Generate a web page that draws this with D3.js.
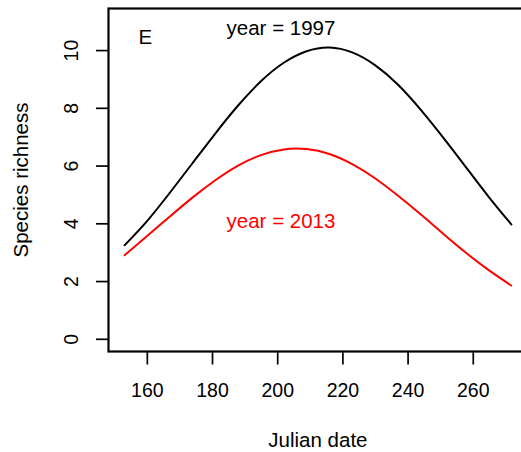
<!DOCTYPE html>
<html>
<head>
<meta charset="utf-8">
<script src="https://cdn.jsdelivr.net/npm/d3@7"></script>
<style>
  html, body { margin: 0; padding: 0; background: #fff; }
  svg { display: block; font-family: "Liberation Sans", Arial, Helvetica, sans-serif; }
</style>
</head>
<body>
<svg id="chart" width="521" height="452"></svg>
<script>
// Fitted species richness over the season, two survey years
const julianDates = [153, 160, 167, 174, 181, 188, 195, 202, 209, 216, 223, 230, 237, 244, 251, 258, 265, 272];
const richness1997 = [3.22, 4.07, 5.05, 6.08, 7.11, 8.08, 8.92, 9.56, 9.96, 10.09, 9.92, 9.48, 8.81, 7.94, 6.96, 5.93, 4.90, 3.94];
const richness2013 = [2.88, 3.55, 4.23, 4.89, 5.49, 6.00, 6.36, 6.56, 6.57, 6.40, 6.05, 5.56, 4.96, 4.31, 3.63, 2.97, 2.37, 1.83];
const xTicks = [160, 180, 200, 220, 240, 260];
const yTicks = [0, 2, 4, 6, 8, 10];
const yLimits = [0, 11];

const svg = d3.select("#chart");
const tickFont = 19.5;
const textFont = 20.5;

// plot region (right border runs just past the canvas edge)
const plot = { left: 108.5, right: 527.4, top: 8.5, bottom: 351.5 };

// R-style 4% axis expansion
const pad = (lo, hi) => { const d = (hi - lo) * 0.04; return [lo - d, hi + d]; };

const x = d3.scaleLinear()
  .domain(pad(d3.min(julianDates), d3.max(julianDates)))
  .range([plot.left, plot.right]);
const y = d3.scaleLinear()
  .domain(pad(yLimits[0], yLimits[1]))
  .range([plot.bottom, plot.top]);

// x axis
const xAxis = svg.append("g")
  .attr("transform", `translate(0,${plot.bottom})`)
  .call(d3.axisBottom(x).tickValues(xTicks).tickSize(13).tickPadding(18.8));
xAxis.select(".domain").remove();
xAxis.selectAll(".tick line").attr("stroke", "#000").attr("stroke-width", 1.7);
xAxis.selectAll(".tick text")
  .attr("font-size", tickFont).attr("font-family", null).attr("fill", "#000");

// y axis with labels parallel to the axis
const yAxis = svg.append("g")
  .attr("transform", `translate(${plot.left},0)`)
  .call(d3.axisLeft(y).tickValues(yTicks).tickSize(12.5));
yAxis.select(".domain").remove();
yAxis.selectAll(".tick line").attr("stroke", "#000").attr("stroke-width", 1.7);
yAxis.selectAll(".tick text")
  .attr("x", null).attr("dy", null)
  .attr("transform", "translate(-30.2,0) rotate(-90)")
  .attr("text-anchor", "middle")
  .attr("font-size", tickFont).attr("font-family", null).attr("fill", "#000");

// axis titles
svg.append("text")
  .attr("x", (plot.left + plot.right) / 2).attr("y", 446.7)
  .attr("text-anchor", "middle").attr("font-size", textFont)
  .text("Julian date");
svg.append("text")
  .attr("transform", `translate(27.5,${(plot.top + plot.bottom) / 2}) rotate(-90)`)
  .attr("text-anchor", "middle").attr("font-size", textFont)
  .text("Species richness");

// curves
const line = d3.line().curve(d3.curveNatural);
const series = [
  { values: richness1997, color: "#000000" },
  { values: richness2013, color: "#ff0000" }
];
series.forEach(s => {
  svg.append("path")
    .attr("d", line(julianDates.map((d, i) => [x(d), y(s.values[i])])))
    .attr("fill", "none")
    .attr("stroke", s.color)
    .attr("stroke-width", 2);
});

// frame
svg.append("rect")
  .attr("x", plot.left).attr("y", plot.top)
  .attr("width", plot.right - plot.left).attr("height", plot.bottom - plot.top)
  .attr("fill", "none").attr("stroke", "#000").attr("stroke-width", 2.2);

// annotations
svg.append("text")
  .attr("x", 138.5).attr("y", 44.3)
  .attr("font-size", textFont).text("E");
svg.append("text")
  .attr("x", 281).attr("y", 35)
  .attr("text-anchor", "middle").attr("font-size", textFont).attr("fill", "#000")
  .text("year = 1997");
svg.append("text")
  .attr("x", 281).attr("y", 228.3)
  .attr("text-anchor", "middle").attr("font-size", textFont).attr("fill", "#ff0000")
  .text("year = 2013");
</script>
</body>
</html>
